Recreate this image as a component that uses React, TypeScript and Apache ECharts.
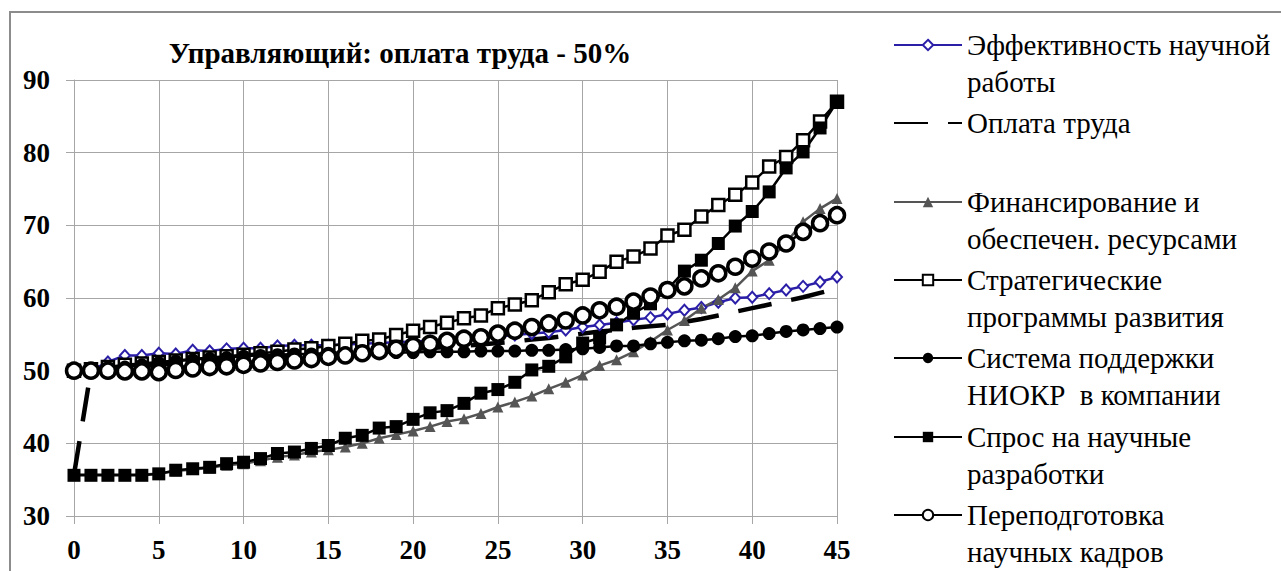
import React, { useEffect, useRef } from "react";
import * as echarts from "echarts";

const xValues = [
  0, 1, 2, 3, 4, 5, 6, 7, 8, 9, 10, 11, 12, 13, 14, 15, 16, 17, 18, 19, 20, 21, 22,
  23, 24, 25, 26, 27, 28, 29, 30, 31, 32, 33, 34, 35, 36, 37, 38, 39, 40, 41, 42, 43,
  44, 45,
];

const seriesNames = [
  "Эффективность научной работы",
  "Оплата труда",
  "Финансирование и обеспечен. ресурсами",
  "Стратегические программы развития",
  "Система поддержки НИОКР в компании",
  "Спрос на научные разработки",
  "Переподготовка научных кадров",
];

const legendLines = [
  ["Эффективность научной", "работы"],
  ["Оплата труда", " "],
  ["Финансирование и", "обеспечен. ресурсами"],
  ["Стратегические", "программы развития"],
  ["Система поддержки", "НИОКР  в компании"],
  ["Спрос на научные", "разработки"],
  ["Переподготовка", "научных кадров"],
];

const efficiency = [
  50, 50, 51.2, 52.1, 52.1, 52.4, 52.3, 52.8, 52.7, 53.0, 53.1, 53.1, 53.4, 53.5, 53.5,
  53.5, 53.6, 53.7, 53.8, 53.9, 54.0, 54.1, 54.2, 54.4, 54.5, 54.7, 54.9, 55.1, 55.3,
  55.6, 56.0, 56.3, 56.6, 57.0, 57.3, 57.8, 58.3, 58.7, 59.4, 60.0, 60.1, 60.6, 61.1,
  61.6, 62.2, 62.9,
];

const payment = [
  35.7, 50.0, 50.2, 50.4, 50.6, 50.8, 51.0, 51.1, 51.3, 51.4, 51.6, 51.7, 51.9, 52.0,
  52.1, 52.3, 52.4, 52.6, 52.7, 52.8, 53.0, 53.1, 53.3, 53.4, 53.6, 53.8, 54.0, 54.3,
  54.5, 54.8, 55.1, 55.4, 55.6, 55.9, 56.1, 56.3, 56.7, 57.1, 57.6, 58.1, 58.6, 59.1,
  59.6, 60.1, 60.7, 61.3,
];

const financing = [
  35.7, 35.7, 35.7, 35.7, 35.7, 35.8, 36.2, 36.4, 36.6, 37.0, 37.2, 37.6, 38.1, 38.4,
  38.8, 39.1, 39.5, 40.0, 40.7, 41.2, 41.7, 42.3, 43.0, 43.4, 44.1, 45.0, 45.7, 46.5,
  47.5, 48.4, 49.4, 50.7, 51.5, 52.6, 54.0, 55.6, 56.9, 58.6, 59.8, 61.4, 63.7, 65.2,
  67.6, 70.5, 72.3, 73.7,
];

const strategic = [
  50, 50.2, 50.5, 50.8, 51.0, 51.2, 51.4, 51.6, 51.8, 52.0, 52.2, 52.4, 52.6, 52.9,
  53.1, 53.4, 53.7, 54.1, 54.3, 54.9, 55.5, 56.0, 56.6, 57.2, 57.6, 58.6, 59.1, 59.7,
  60.8, 61.9, 62.5, 63.6, 65.0, 65.7, 66.8, 68.6, 69.4, 71.2, 72.8, 74.2, 75.9, 78.1,
  79.4, 81.7, 84.3, 87.0,
];

const support = [
  50, 50, 50.2, 50.5, 50.8, 51.1, 51.3, 51.5, 51.7, 51.8, 52.0, 52.1, 52.2, 52.3, 52.3,
  52.4, 52.4, 52.5, 52.5, 52.5, 52.5, 52.6, 52.6, 52.6, 52.7, 52.7, 52.7, 52.8, 52.8,
  52.9, 53.0, 53.2, 53.4, 53.4, 53.7, 53.9, 54.1, 54.2, 54.4, 54.7, 54.8, 55.1, 55.4,
  55.6, 55.8, 56.0,
];

const demand = [
  35.6, 35.6, 35.6, 35.6, 35.6, 35.8, 36.3, 36.5, 36.7, 37.2, 37.4, 37.9, 38.6, 38.8,
  39.3, 39.7, 40.7, 41.1, 42.1, 42.3, 43.3, 44.2, 44.5, 45.5, 46.9, 47.4, 48.4, 50.1,
  50.6, 51.9, 53.8, 54.5, 56.3, 57.9, 59.2, 61.2, 63.7, 65.2, 67.5, 69.9, 71.9, 74.6,
  77.9, 80.1, 83.4, 87.0,
];

const retraining = [
  50, 50, 50, 49.9, 49.9, 49.8, 50.1, 50.3, 50.5, 50.6, 50.8, 51.0, 51.2, 51.4, 51.6,
  51.9, 52.1, 52.4, 52.7, 53.0, 53.4, 53.7, 54.1, 54.4, 54.6, 55.1, 55.5, 56.0, 56.5,
  56.9, 57.6, 58.3, 58.8, 59.5, 60.2, 61.1, 61.6, 62.7, 63.4, 64.3, 65.4, 66.4, 67.5,
  69.1, 70.3, 71.4,
];

const legendMarkerY = [45, 123, 202, 280, 358, 437, 515];

const SERIF = "'Liberation Serif', 'Times New Roman', serif";

function pairs(values: number[]) {
  return xValues.map((x, i) => [x, values[i]]);
}

export default function App() {
  const ref = useRef<HTMLDivElement>(null);

  useEffect(() => {
    if (!ref.current) return;
    const chart = echarts.init(ref.current, null, { renderer: "svg" });

    const blue = "#2B1FA8";
    const gray = "#555555";
    const black = "#000000";

    const series: any[] = [
      {
        name: seriesNames[0],
        type: "line",
        data: pairs(efficiency),
        symbol: "diamond",
        symbolSize: [10, 11],
        lineStyle: { color: blue, width: 2.5 },
        itemStyle: { color: "#ffffff", borderColor: blue, borderWidth: 2 },
      },
      {
        name: seriesNames[1],
        type: "line",
        data: pairs(payment),
        symbol: "none",
        lineStyle: { color: black, width: 4.5, type: [34, 20] },
        itemStyle: { color: black },
      },
      {
        name: seriesNames[2],
        type: "line",
        data: pairs(financing),
        symbol: "triangle",
        symbolSize: 11,
        lineStyle: { color: gray, width: 2.5 },
        itemStyle: { color: gray },
      },
      {
        name: seriesNames[3],
        type: "line",
        data: pairs(strategic),
        symbol: "rect",
        symbolSize: 12,
        lineStyle: { color: black, width: 2.5 },
        itemStyle: { color: "#ffffff", borderColor: black, borderWidth: 2.5 },
      },
      {
        name: seriesNames[4],
        type: "line",
        data: pairs(support),
        symbol: "circle",
        symbolSize: 13,
        lineStyle: { color: black, width: 2.5 },
        itemStyle: { color: black },
      },
      {
        name: seriesNames[5],
        type: "line",
        data: pairs(demand),
        symbol: "rect",
        symbolSize: 13,
        lineStyle: { color: black, width: 2.5 },
        itemStyle: { color: black },
      },
      {
        name: seriesNames[6],
        type: "line",
        data: pairs(retraining),
        symbol: "circle",
        symbolSize: 15,
        lineStyle: { color: black, width: 2.5 },
        itemStyle: { color: "#ffffff", borderColor: black, borderWidth: 3.5 },
      },
    ].map((s) => ({ ...s, showSymbol: s.symbol !== "none", z: 2 }));

    const LH = 36.5;
    const legends = seriesNames.map((name, i) => {
      const leg: any = {
        data: [name],
        left: 893,
        top: legendMarkerY[i] - 1.5 * LH,
        orient: "vertical",
        padding: 0,
        itemWidth: 68,
        itemHeight: 13,
        itemGap: 0,
        selectedMode: false,
        formatter: () => " \n" + legendLines[i].join("\n"),
        textStyle: {
          fontFamily: SERIF,
          fontSize: 29,
          color: "#000",
          lineHeight: LH,
        },
      };
      if (i === 1) {
        leg.itemStyle = { opacity: 0 };
      }
      return leg;
    });

    chart.setOption({
      animation: false,
      backgroundColor: "#ffffff",
      title: {
        text: "Управляющий: оплата труда - 50%",
        left: 395,
        top: 33,
        textAlign: "center",
        textStyle: {
          fontFamily: SERIF,
          fontSize: 29,
          fontWeight: "bold",
          color: "#000",
        },
      },
      legend: legends,
      grid: { left: 74, top: 80, width: 763, height: 436, containLabel: false },
      xAxis: {
        type: "value",
        min: 0,
        max: 45,
        interval: 5,
        axisLine: { show: true, lineStyle: { color: "#a6a6a6", width: 1 } },
        axisTick: { show: true, length: 8, lineStyle: { color: "#a6a6a6" } },
        splitLine: { show: true, lineStyle: { color: "#a6a6a6", width: 1 } },
        axisLabel: {
          fontFamily: SERIF,
          fontSize: 27,
          fontWeight: "bold",
          color: "#000",
          margin: 20,
        },
      },
      yAxis: {
        type: "value",
        min: 30,
        max: 90,
        interval: 10,
        axisLine: { show: true, lineStyle: { color: "#a6a6a6", width: 1 } },
        axisTick: { show: true, length: 8, lineStyle: { color: "#a6a6a6" } },
        splitLine: { show: true, lineStyle: { color: "#a6a6a6", width: 1 } },
        axisLabel: {
          fontFamily: SERIF,
          fontSize: 27,
          fontWeight: "bold",
          color: "#000",
          margin: 24,
        },
      },
      graphic: [
        {
          type: "rect",
          shape: { x: 10, y: 12, width: 1300, height: 600 },
          style: { fill: "none", stroke: "#8c8c8c", lineWidth: 2 },
          silent: true,
          z: -1,
        },
      ],
      series,
    });

    return () => chart.dispose();
  }, []);

  return (
    <div
      ref={ref}
      style={{
        position: "fixed",
        left: 0,
        top: 0,
        width: 1281,
        height: 571,
        background: "#ffffff",
      }}
    />
  );
}
